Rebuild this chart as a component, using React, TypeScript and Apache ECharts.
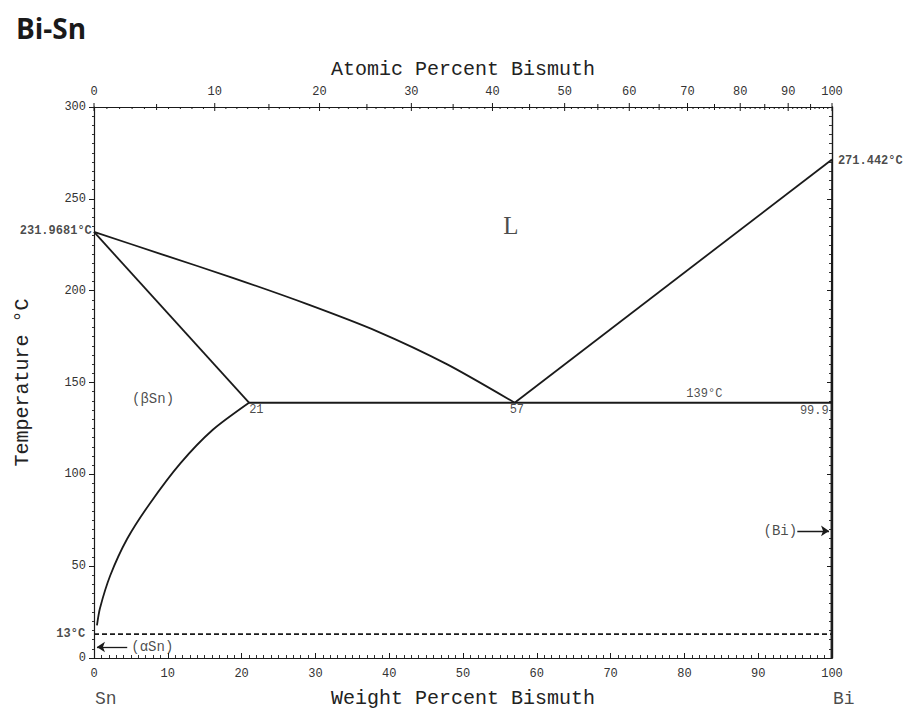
import React, { useEffect, useRef } from "react";
import * as echarts from "echarts";

// ---- data ----
const M_BI = 208.98;
const M_SN = 118.71;

const liquidusSn: number[][] = [
  [0, 231.97], [9.2, 219.8], [18.8, 207.0], [28.8, 192.8], [38.3, 178], [47.8, 160], [57, 139],
];
const solidusSn: number[][] = [[0, 231.97], [21, 139]];
const solvusSn: number[][] = [
  [21, 139], [16.1, 124.3], [11.7, 106], [7.6, 84.3], [4.5, 64.9], [2.2, 44.9], [0.8, 27], [0.4, 17.8],
];
const eutectic: number[][] = [[21, 139], [100, 139]];
const liquidusBi: number[][] = [[57, 139], [100, 271.442]];
const solidusBi: number[][] = [[100, 271.442], [99.9, 139], [99.9, 0]];
const alphaBeta: number[][] = [[0, 13], [100, 13]];

const weightTicks = [0, 10, 20, 30, 40, 50, 60, 70, 80, 90, 100];
const tempTicks = [0, 50, 100, 150, 200, 250, 300];
const atomicTickLabels = [0, 10, 20, 30, 40, 50, 60, 70, 80, 90, 100];

type Ann = { text: string; at: [number, number]; align: string; size: number; family: string; weight?: string };
const annotations: Ann[] = [
  { text: "L", at: [56.5, 235.7], align: "center", size: 25, family: "Liberation Serif" },
  { text: "(βSn)", at: [8.0, 141.1], align: "center", size: 14, family: "Liberation Mono" },
  { text: "21", at: [22.0, 135.1], align: "center", size: 12, family: "Liberation Mono" },
  { text: "57", at: [57.3, 135.1], align: "center", size: 12, family: "Liberation Mono" },
  { text: "139°C", at: [82.7, 143.8], align: "center", size: 12, family: "Liberation Mono" },
  { text: "99.9", at: [97.6, 134.6], align: "center", size: 12, family: "Liberation Mono" },
  { text: "(Bi)", at: [93.0, 69.2], align: "center", size: 14, family: "Liberation Mono" },
  { text: "(αSn)", at: [7.9, 5.9], align: "center", size: 14, family: "Liberation Mono" },
  { text: "13°C", at: [-1.2, 13], align: "right", size: 12, family: "Liberation Mono", weight: "bold" },
  { text: "231.9681°C", at: [-0.3, 232.4], align: "right", size: 12, family: "Liberation Mono", weight: "bold" },
  { text: "271.442°C", at: [100.8, 270.8], align: "left", size: 12, family: "Liberation Mono", weight: "bold" },
  { text: "Sn", at: [1.6, -22.5], align: "center", size: 18, family: "Liberation Mono" },
  { text: "Bi", at: [101.6, -22.5], align: "center", size: 18, family: "Liberation Mono" },
];

const arrows: number[][][] = [
  [[95.3, 69.2], [99.6, 69.2]],
  [[4.5, 6], [0.4, 6]],
];

function atomicToWeight(a: number): number {
  return (100 * a * M_BI) / (a * M_BI + (100 - a) * M_SN);
}

const INK = "#1a1a1a";
const MONO = "Liberation Mono";

export default function App() {
  const ref = useRef<HTMLDivElement>(null);

  useEffect(() => {
    if (!ref.current) return;
    const chart = echarts.init(ref.current, undefined, { renderer: "svg" });

    const atomicAll: number[][] = [];
    for (let a = 0; a <= 100; a++) atomicAll.push([a, 300]);

    const lineSeries = (data: number[][], smooth: number | boolean, extra: any = {}) => ({
      type: "line",
      data,
      symbol: "none",
      smooth,
      lineStyle: { color: INK, width: 1.8 },
      silent: true,
      z: 5,
      ...extra,
    });

    const option: any = {
      animation: false,
      backgroundColor: "#ffffff",
      title: {
        text: "Bi-Sn",
        left: 11,
        top: 9,
        textStyle: { fontFamily: "Open Sans", fontWeight: "bold", fontSize: 28, color: "#1a1a1a" },
      },
      grid: { left: 94, right: 77, top: 107, bottom: 50 },
      xAxis: [
        {
          type: "value",
          position: "bottom",
          min: 0,
          max: 100,
          interval: 10,
          axisLine: { onZero: false, lineStyle: { color: INK, width: 1.2 } },
          axisTick: { inside: true, length: 5, lineStyle: { color: INK } },
          minorTick: { show: true, splitNumber: 10, length: 3, lineStyle: { color: "#333" } },
          axisLabel: {
            margin: 10,
            fontFamily: MONO,
            fontSize: 12,
            color: "#333",
            customValues: weightTicks,
          },
          splitLine: { show: false },
          name: "Weight Percent Bismuth",
          nameLocation: "middle",
          nameGap: 30,
          nameTextStyle: { fontFamily: MONO, fontSize: 20, color: "#222" },
        },
        {
          type: "value",
          position: "top",
          min: 0,
          max: 100,
          axisLine: { onZero: false, lineStyle: { color: INK, width: 1.2 } },
          axisTick: { show: false },
          axisLabel: { show: false },
          splitLine: { show: false },
          name: "Atomic Percent Bismuth",
          nameLocation: "middle",
          nameGap: 28,
          nameTextStyle: { fontFamily: MONO, fontSize: 20, color: "#222" },
        },
      ],
      yAxis: [
        {
          type: "value",
          position: "left",
          min: 0,
          max: 300,
          interval: 50,
          axisLine: { show: true, onZero: false, lineStyle: { color: INK, width: 1.2 } },
          axisTick: { show: true, length: 5, lineStyle: { color: INK } },
          minorTick: { show: true, splitNumber: 10, length: 2, lineStyle: { color: "#333" } },
          axisLabel: { margin: 8, fontFamily: MONO, fontSize: 12, color: "#333", customValues: tempTicks },
          splitLine: { show: false },
          name: "Temperature °C",
          nameLocation: "middle",
          nameGap: 62,
          nameTextStyle: { fontFamily: MONO, fontSize: 20, color: "#222" },
        },
        {
          type: "value",
          position: "right",
          min: 0,
          max: 300,
          interval: 50,
          axisLine: { show: true, onZero: false, lineStyle: { color: INK, width: 1.4 } },
          axisTick: { show: true, inside: true, length: 5, lineStyle: { color: INK } },
          minorTick: { show: true, splitNumber: 10, length: 3, lineStyle: { color: "#333" } },
          axisLabel: { show: false },
          splitLine: { show: false },
        },
      ],
      series: [
        lineSeries(liquidusSn, 0.25),
        lineSeries(solidusSn, false),
        lineSeries(solvusSn, 0.25),
        lineSeries(eutectic, false, { lineStyle: { color: INK, width: 2 } }),
        lineSeries(liquidusBi, false),
        lineSeries(solidusBi, false, { lineStyle: { color: INK, width: 1.4 } }),
        lineSeries(alphaBeta, false, {
          lineStyle: { color: INK, width: 1.6, type: [5, 3] },
          markLine: {
            silent: true,
            symbol: ["none", "arrow"],
            symbolSize: 8,
            label: { show: false },
            lineStyle: { color: INK, width: 1.3, type: "solid" },
            data: arrows.map((ar) => [{ coord: ar[0] }, { coord: ar[1] }]),
          },
        }),
        {
          type: "custom",
          silent: true,
          clip: false,
          xAxisIndex: 0,
          yAxisIndex: 0,
          data: atomicAll,
          renderItem: (params: any, api: any) => {
            const a = api.value(0);
            const w = atomicToWeight(a);
            const p = api.coord([w, 300]);
            const major = a % 10 === 0;
            const mid = a % 5 === 0;
            const up = major ? 4 : mid ? 3 : 0;
            const down = major ? 4 : mid ? 3 : 2;
            const children: any[] = [
              {
                type: "line",
                shape: { x1: p[0], y1: p[1] - up, x2: p[0], y2: p[1] + down },
                style: { stroke: INK, lineWidth: 1 },
              },
            ];
            if (major && atomicTickLabels.indexOf(a) >= 0) {
              children.push({
                type: "text",
                x: p[0],
                y: p[1] - 15,
                style: {
                  text: String(a),
                  align: "center",
                  verticalAlign: "middle",
                  font: `12px "${MONO}"`,
                  fill: "#333",
                },
              });
            }
            return { type: "group", children };
          },
        },
        {
          type: "scatter",
          silent: true,
          clip: false,
          symbolSize: 0,
          data: annotations.map((an) => ({
            value: an.at,
            label: {
              show: true,
              position: [0, 0],
              formatter: an.text,
              align: an.align,
              verticalAlign: "middle",
              fontFamily: an.family,
              fontSize: an.size,
              fontWeight: an.weight || "normal",
              color: "#1a1a1a",
            },
          })),
          z: 10,
        },
      ],
    };

    chart.setOption(option);
    return () => chart.dispose();
  }, []);

  return (
    <div
      ref={ref}
      style={{ position: "fixed", left: 0, top: 0, width: 909, height: 713, background: "#fff" }}
    />
  );
}
